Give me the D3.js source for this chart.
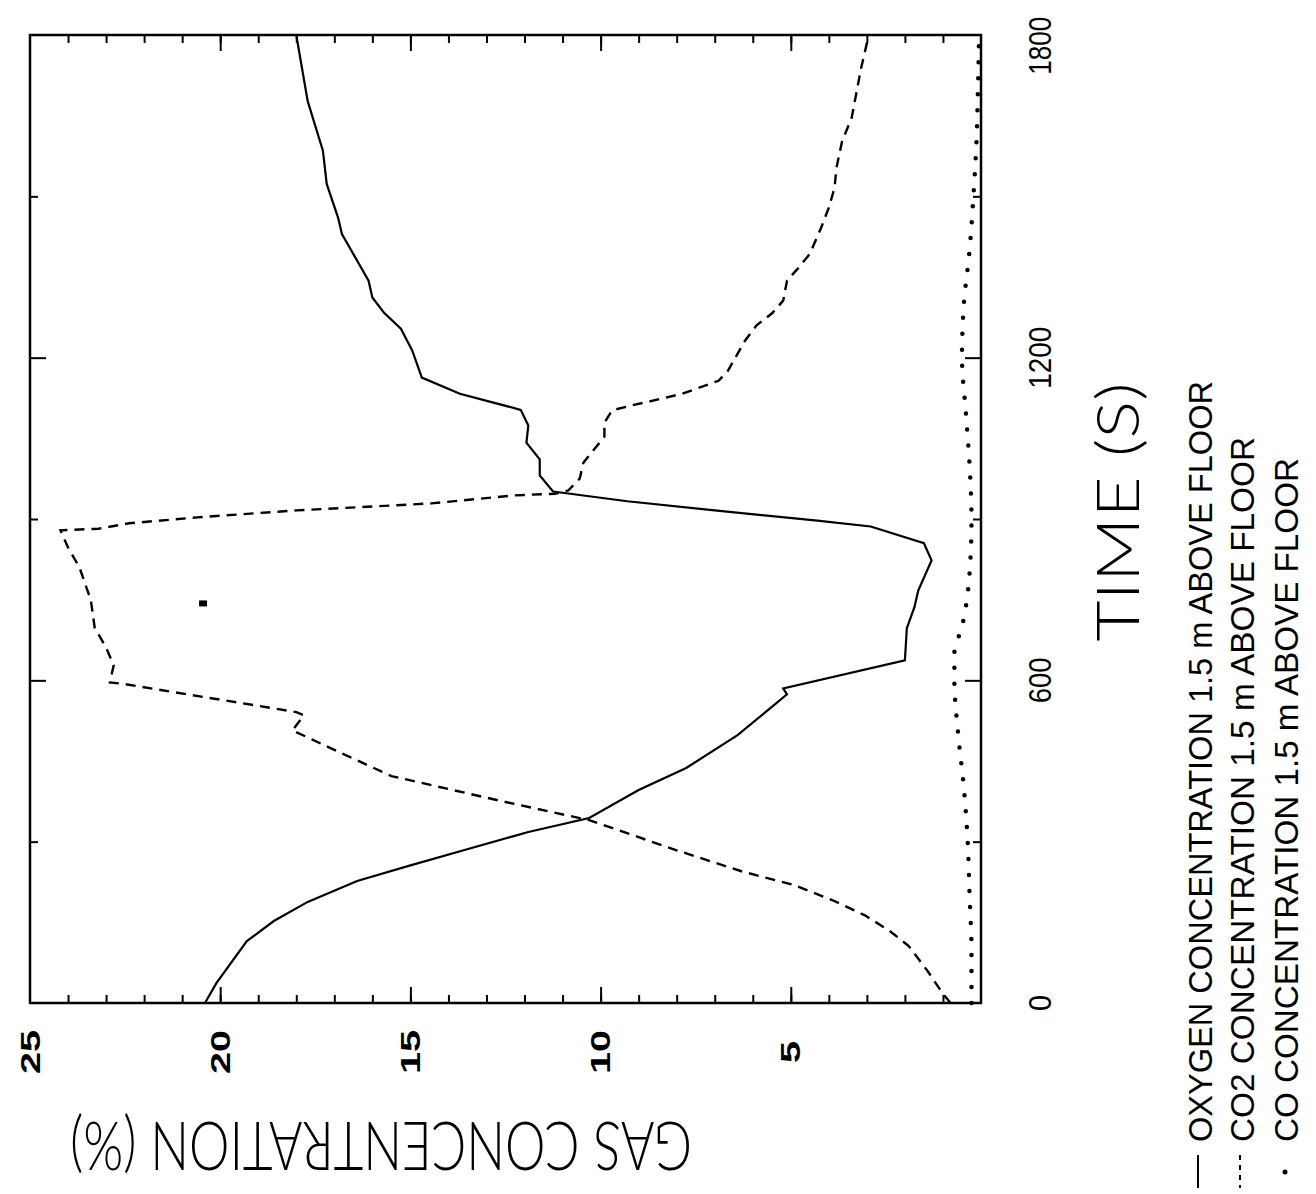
<!DOCTYPE html>
<html><head><meta charset="utf-8">
<script src="https://cdn.jsdelivr.net/npm/d3@7"></script>
<style>html,body{margin:0;padding:0;background:#fff;}svg{display:block;}</style>
</head><body>
<svg id="chart" width="1316" height="1194"></svg>
<script>
// ---- data ----
const o2Time = [0,37,115,152,188,227,256,284,318,344,396,437,498,574,585,637,697,736,767,823,855,886,897,916,933,947,951,981,1011,1042,1074,1103,1133,1163,1213,1254,1284,1312,1343,1430,1460,1523,1585,1677,1800];
const o2Value = [20.4,20.1,19.3,18.6,17.7,16.4,15.0,13.6,11.9,10.3,9.0,7.75,6.4,5.1,5.2,2.0,1.95,1.75,1.65,1.3,1.5,2.9,4.3,7.0,9.3,10.8,11.25,11.6,11.6,11.95,11.9,12.1,13.7,14.7,14.95,15.25,15.7,16.0,16.1,16.8,16.9,17.2,17.3,17.7,18.0];
const co2Time = [0,17,59,106,134,163,191,219,245,284,340,377,422,474,507,535,541,594,596,628,661,698,749,810,847,879,882,892,903,916,929,944,947,953,975,1005,1027,1053,1079,1102,1111,1118,1133,1157,1176,1232,1260,1282,1306,1343,1367,1393,1442,1479,1516,1553,1603,1646,1739,1800];
const co2Value = [0.8,1.0,1.4,1.9,2.4,3.05,3.9,4.9,6.3,8.0,10.3,12.7,15.5,17.1,18.1,17.8,18.0,22.6,22.9,22.8,23.0,23.3,23.4,23.7,24.0,24.2,23.2,22.4,20.6,18.0,14.45,12.25,11.2,10.85,10.55,10.45,10.2,9.9,9.9,9.7,9.2,8.75,7.85,6.9,6.65,6.2,5.9,5.5,5.2,5.1,4.8,4.5,4.2,4.0,3.85,3.8,3.65,3.4,3.15,2.95];
const coTime = [0,100,200,300,400,500,600,650,700,800,900,1000,1100,1200,1300,1400,1500,1600,1700,1800];
const coValue = [0.25,0.25,0.3,0.35,0.45,0.6,0.7,0.7,0.5,0.3,0.25,0.3,0.4,0.5,0.45,0.3,0.2,0.12,0.08,0.05];
const markTime = [743];
const markValue = [20.45];
const concTicks = [25,20,15,10,5];
const concTickLabels = ["25","20","15","10","5"];
const timeTicks = [0,600,1200,1800];
const timeTickLabels = ["0","600","1200","1800"];
const legendLabels = ["OXYGEN CONCENTRATION 1.5 m ABOVE FLOOR","CO2 CONCENTRATION 1.5 m ABOVE FLOOR","CO CONCENTRATION 1.5 m ABOVE FLOOR"];
const xTitle = "TIME (S)";
const yTitle = "GAS CONCENTRATION (%)";

// ---- drawing ----
const svg = d3.select("#chart");
const L = 30, R = 981, T = 35, B = 1003;
const conc = d3.scaleLinear().domain([0,25]).range([R, L]);
const time = d3.scaleLinear().domain([0,1800]).range([B, T]);
const narrow = "'Liberation Sans Narrow','Arial Narrow','Liberation Sans',Arial,sans-serif";

function axisG(axis, tr){
  const g = svg.append("g").attr("transform", tr).call(axis);
  g.select(".domain").remove();
  g.selectAll("line").attr("stroke","#000").attr("stroke-width",2);
  g.selectAll("text").remove();
}
const minorC = d3.range(1,25);
axisG(d3.axisBottom(conc).tickValues(minorC).tickSize(8), `translate(0,${T})`);
axisG(d3.axisBottom(conc).tickValues([5,10,15,20]).tickSize(16), `translate(0,${T})`);
axisG(d3.axisTop(conc).tickValues(minorC).tickSize(8), `translate(0,${B})`);
axisG(d3.axisTop(conc).tickValues([5,10,15,20]).tickSize(16), `translate(0,${B})`);
const minorT = [300,900,1500];
const majorT = [600,1200];
axisG(d3.axisRight(time).tickValues(minorT).tickSize(8), `translate(${L},0)`);
axisG(d3.axisRight(time).tickValues(majorT).tickSize(16), `translate(${L},0)`);
axisG(d3.axisLeft(time).tickValues(minorT).tickSize(8), `translate(${R},0)`);
axisG(d3.axisLeft(time).tickValues(majorT).tickSize(16), `translate(${R},0)`);

svg.append("rect").attr("x",L).attr("y",T).attr("width",R-L).attr("height",B-T)
  .attr("fill","none").attr("stroke","#000").attr("stroke-width",2.5);

const line = d3.line().x(d=>conc(d[1])).y(d=>time(d[0]));
const o2 = o2Time.map((t,i)=>[t,o2Value[i]]);
const co2 = co2Time.map((t,i)=>[t,co2Value[i]]);
const co = coTime.map((t,i)=>[t,coValue[i]]);
svg.append("path").datum(o2).attr("d",line).attr("fill","none").attr("stroke","#000").attr("stroke-width",2.2);
svg.append("path").datum(co2).attr("d",line).attr("fill","none").attr("stroke","#000").attr("stroke-width",2.4).attr("stroke-dasharray","10 7");
svg.append("path").datum(co).attr("d",d3.line().x(d=>conc(d[1])).y(d=>time(d[0])).curve(d3.curveMonotoneY))
  .attr("fill","none").attr("stroke","#000").attr("stroke-width",4.5).attr("stroke-linecap","round").attr("stroke-dasharray","0 16");
svg.selectAll(".mark").data(markTime).enter().append("rect")
  .attr("x",(d,i)=>conc(markValue[i])-4).attr("y",d=>time(d)-3).attr("width",8).attr("height",6).attr("fill","#000");

// concentration tick labels
const cLen = [44,44,44,44,22];
svg.selectAll(".cl").data(concTicks).enter().append("text")
  .attr("transform",d=>`translate(${conc(d)},1052) rotate(-90)`)
  .attr("text-anchor","middle").attr("dominant-baseline","central")
  .attr("font-family","'Liberation Sans',Arial,sans-serif").attr("font-weight","bold").attr("font-size",28)
  .attr("textLength",(d,i)=>cLen[i]).attr("lengthAdjust","spacingAndGlyphs")
  .text((d,i)=>concTickLabels[i]);

// time tick labels
const tLen = [16,46,62,58];
const tPos = [0,600,1200,1780];
svg.selectAll(".tl").data(timeTicks).enter().append("text")
  .attr("transform",(d,i)=>`translate(1040,${time(tPos[i])}) rotate(-90)`)
  .attr("text-anchor","middle").attr("dominant-baseline","central")
  .attr("font-family",narrow).attr("font-size",32)
  .attr("textLength",(d,i)=>tLen[i]).attr("lengthAdjust","spacingAndGlyphs")
  .text((d,i)=>timeTickLabels[i]);

// x title (time)
svg.append("text").attr("transform","translate(1116,512) rotate(-90)")
  .attr("text-anchor","middle").attr("dominant-baseline","central")
  .attr("font-family","Lato,'Open Sans',sans-serif").attr("font-weight",300).attr("font-size",60)
  .attr("textLength",259).attr("lengthAdjust","spacingAndGlyphs").text(xTitle);

// y title (concentration), upside down
svg.append("text").attr("transform","translate(381,1148) rotate(180) scale(1,1.28)")
  .attr("text-anchor","middle").attr("dominant-baseline","central")
  .attr("font-family","Lato,'Open Sans',sans-serif").attr("font-weight",300).attr("font-size",53)
  .attr("textLength",622).attr("lengthAdjust","spacingAndGlyphs").text(yTitle);

// legend
const legX = [1200,1242,1286];
const legLen = [761,705,684];
svg.selectAll(".lg").data(legendLabels).enter().append("text")
  .attr("transform",(d,i)=>`translate(${legX[i]},1142) rotate(-90)`)
  .attr("text-anchor","start").attr("dominant-baseline","central")
  .attr("font-family",narrow).attr("font-size",34)
  .attr("textLength",(d,i)=>legLen[i]).attr("lengthAdjust","spacingAndGlyphs")
  .text(d=>d);
svg.append("line").attr("x1",1198).attr("x2",1198).attr("y1",1155).attr("y2",1188).attr("stroke","#000").attr("stroke-width",2);
svg.append("line").attr("x1",1240).attr("x2",1240).attr("y1",1155).attr("y2",1188).attr("stroke","#000").attr("stroke-width",2).attr("stroke-dasharray","5 5");
svg.append("circle").attr("cx",1285).attr("cy",1172).attr("r",2.5).attr("fill","#000");
</script>
</body></html>
